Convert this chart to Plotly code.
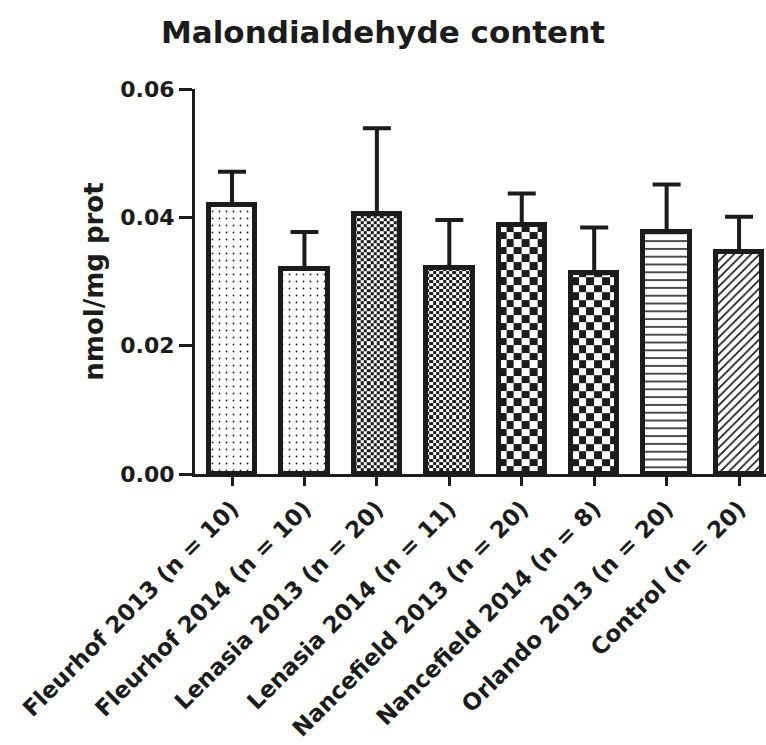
import numpy as np
import plotly.graph_objects as go

# Group labels and measured means / standard deviations (nmol/mg protein)
groups = [
    "Fleurhof 2013 (n = 10)",
    "Fleurhof 2014 (n = 10)",
    "Lenasia 2013 (n = 20)",
    "Lenasia 2014 (n = 11)",
    "Nancefield 2013 (n = 20)",
    "Nancefield 2014 (n = 8)",
    "Orlando 2013 (n = 20)",
    "Control (n = 20)",
]
means = [0.0420, 0.0320, 0.0405, 0.0321, 0.0388, 0.0313, 0.0377, 0.0346]
sds = [0.0051, 0.0057, 0.0134, 0.0075, 0.0049, 0.0071, 0.0074, 0.0055]

y_ticks = [0.00, 0.02, 0.04, 0.06]

# Fill style per bar: a plotly pattern shape, or a checkerboard with given cell counts
fills = [
    ("pattern", ".", 7.0, 0.05),
    ("pattern", ".", 7.0, 0.05),
    ("checker", 14, 0.00048),
    ("checker", 14, 0.00048),
    ("checker", 6, 0.00118),
    ("checker", 6, 0.00118),
    ("pattern", "-", 7.8, 0.2),
    ("pattern", "/", 6.0, 0.28),
]

INK = "#1c1c1c"
FONT = "DejaVu Sans"
BAR_WIDTH = 0.64

xpos = list(range(len(groups)))
fig = go.Figure()

# Checkerboard fills are drawn as heatmap bricks inside each bar
for i, (v, f) in enumerate(zip(means, fills)):
    if f[0] != "checker":
        continue
    ncols, cell_h = f[1], f[2]
    x_edges = np.linspace(i - BAR_WIDTH / 2, i + BAR_WIDTH / 2, ncols + 1)
    y_edges = list(np.arange(0, v, cell_h))
    if v - y_edges[-1] > 1e-9:
        y_edges.append(v)
    y_edges = np.array(y_edges)
    nrows = len(y_edges) - 1
    z = [[(r + c) % 2 for c in range(ncols)] for r in range(nrows)]
    fig.add_trace(go.Heatmap(
        x=x_edges, y=y_edges, z=z,
        colorscale=[[0, "white"], [1, INK]], zmin=0, zmax=1,
        showscale=False, hoverinfo="skip", zsmooth=False,
    ))

# One bar trace per group so each can carry its own fill pattern
for i, (g, v, s, f) in enumerate(zip(groups, means, sds, fills)):
    if f[0] == "pattern":
        pattern = dict(shape=f[1], size=f[2], solidity=f[3],
                       fgcolor=INK, bgcolor="white", fillmode="replace")
        color = "white"
    else:
        pattern = dict(shape="")
        color = "rgba(0,0,0,0)"
    fig.add_trace(go.Bar(
        x=[xpos[i]], y=[v], width=BAR_WIDTH, name=g,
        marker=dict(color=color, pattern=pattern,
                    line=dict(color=INK, width=5)),
        error_y=dict(type="data", symmetric=False, array=[s], arrayminus=[0],
                     color=INK, thickness=4, width=14),
        showlegend=False,
    ))

fig.update_layout(
    width=766, height=745,
    margin=dict(l=195, r=0, t=89, b=271),
    paper_bgcolor="white", plot_bgcolor="white",
    font=dict(family=FONT, color=INK, weight="bold"),
    title=dict(text="Malondialdehyde content", x=0.5, xanchor="center",
               y=1 - 32 / 745, yanchor="middle", yref="container",
               font=dict(family=FONT, size=31, color=INK, weight="bold")),
    bargap=0,
)

fig.update_xaxes(
    range=[-0.511, 7.372], tickmode="array", tickvals=xpos, ticktext=groups,
    tickangle=-45, ticks="outside", ticklen=9, tickwidth=3, tickcolor=INK,
    showline=True, linecolor=INK, linewidth=3, showgrid=False, zeroline=False,
    tickfont=dict(family=FONT, size=23, color=INK, weight="bold"),
)
fig.update_yaxes(
    range=[0, 0.06], tickmode="array", tickvals=y_ticks, tickformat=".2f",
    ticks="outside", ticklen=13, tickwidth=3, tickcolor=INK,
    showline=True, linecolor=INK, linewidth=3, showgrid=False, zeroline=False,
    tickfont=dict(family=FONT, size=22, color=INK, weight="bold"),
    title=dict(text="nmol/mg prot", standoff=10,
               font=dict(family=FONT, size=26, color=INK, weight="bold")),
)

fig.write_html("out.html")
